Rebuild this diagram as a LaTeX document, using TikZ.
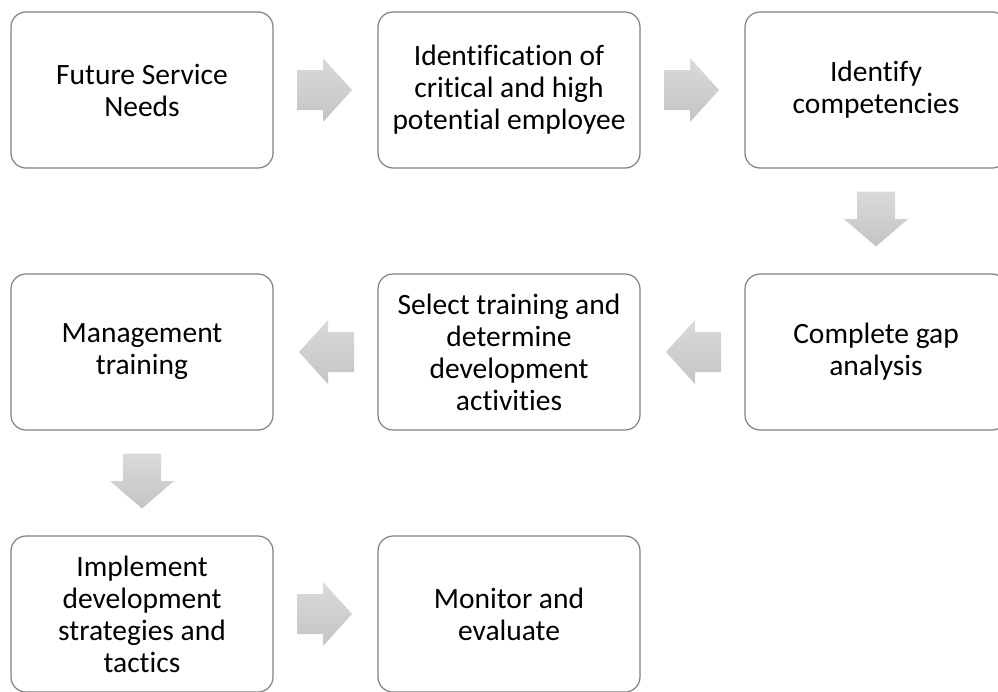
\documentclass[tikz,border=0pt]{standalone}
\usepackage{fontspec}
\setmainfont[Ligatures={NoCommon}]{Carlito}
\usetikzlibrary{calc}
\definecolor{boxline}{RGB}{128,128,128}
\definecolor{arrowtop}{RGB}{218,218,218}
\definecolor{arrowbot}{RGB}{196,196,196}
\begin{document}
\begin{tikzpicture}[x=1pt,y=1pt,
  stepbox/.style={draw=boxline, line width=1.2pt, rounded corners=15pt,
    minimum width=262pt, minimum height=156pt, inner sep=0pt,
    align=center, text=black, font=\fontsize{29.5}{32}\selectfont},
  arrowfill/.style={draw=none, top color=arrowtop, bottom color=arrowbot},
  rightblock/.pic={\path[arrowfill] (-27.5,20) -- (-1.5,20) -- (-1.5,32) -- (27.5,0)
      -- (-1.5,-32) -- (-1.5,-20) -- (-27.5,-20) -- cycle;},
  leftblock/.pic={\path[arrowfill] (27.5,20) -- (1.5,20) -- (1.5,32) -- (-27.5,0)
      -- (1.5,-32) -- (1.5,-20) -- (27.5,-20) -- cycle;},
  downblock/.pic={\path[arrowfill] (-19,27.5) -- (19,27.5) -- (19,0) -- (32,0)
      -- (0,-27.5) -- (-32,0) -- (-19,0) -- cycle;}]
\useasboundingbox (0,0) rectangle (998,-691);
\clip (0,0) rectangle (998,-691);
\fill[white] (0,0) rectangle (998,-691);

% first row
\node[stepbox] (n1) at (142,-90) {Future Service\\Needs};
\node[stepbox] (n2) at (509,-90) {Identification of\\critical and high\\potential employee};
\node[stepbox] (n3) at (876,-90) {Identify\\competencies};
% second row
\node[stepbox] (n4) at (876,-352) {Complete gap\\analysis};
\node[stepbox] (n5) at (509,-352) {Select training and\\determine\\development\\activities};
\node[stepbox] (n6) at (142,-352) {Management\\training};
% third row
\node[stepbox] (n7) at (142,-614) {Implement\\development\\strategies and\\tactics};
\node[stepbox] (n8) at (509,-614) {Monitor and\\evaluate};

% block arrows between the steps
\pic at ($(n1.east)!0.5!(n2.west)+(-1,0)$) {rightblock};
\pic at ($(n2.east)!0.5!(n3.west)+(-1,0)$) {rightblock};
\pic at ($(n3.south)!0.5!(n4.north)+(0,2)$) {downblock};
\pic at ($(n4.west)!0.5!(n5.east)+(1,0)$) {leftblock};
\pic at ($(n5.west)!0.5!(n6.east)+(1,0)$) {leftblock};
\pic at ($(n6.south)!0.5!(n7.north)+(0,2)$) {downblock};
\pic at ($(n7.east)!0.5!(n8.west)+(-1,0)$) {rightblock};
\end{tikzpicture}
\end{document}
